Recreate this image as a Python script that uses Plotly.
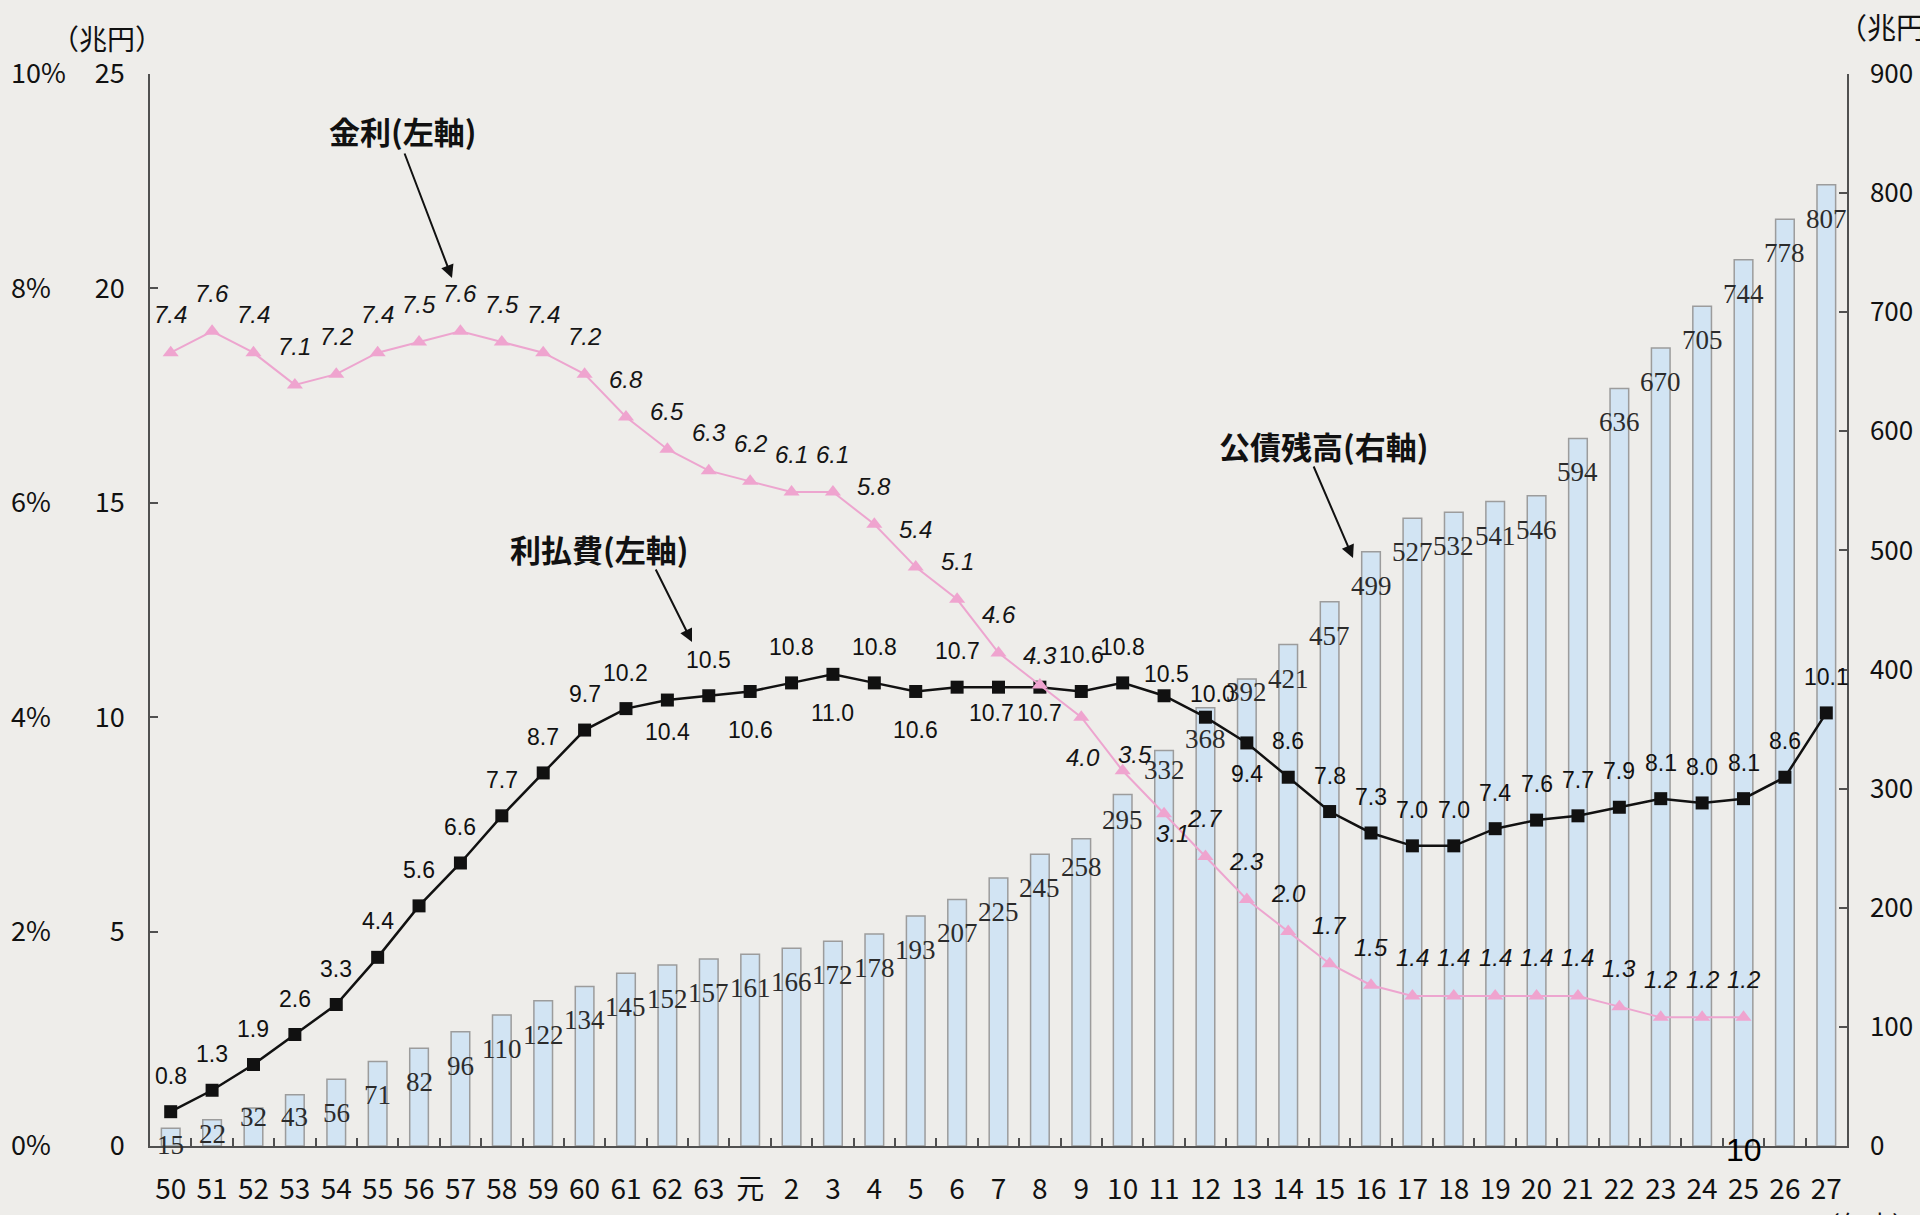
import plotly.graph_objects as go

# ---------------- data ----------------
years = ['50', '51', '52', '53', '54', '55', '56', '57', '58', '59', '60', '61', '62', '63', '元',
         '2', '3', '4', '5', '6', '7', '8', '9', '10', '11', '12', '13', '14', '15', '16', '17',
         '18', '19', '20', '21', '22', '23', '24', '25', '26', '27']

debt = [15, 22, 32, 43, 56, 71, 82, 96, 110, 122, 134, 145, 152, 157, 161,
        166, 172, 178, 193, 207, 225, 245, 258, 295, 332, 368, 392, 421, 457, 499, 527,
        532, 541, 546, 594, 636, 670, 705, 744, 778, 807]

interest_cost = [0.8, 1.3, 1.9, 2.6, 3.3, 4.4, 5.6, 6.6, 7.7, 8.7, 9.7, 10.2, 10.4, 10.5, 10.6,
                 10.8, 11.0, 10.8, 10.6, 10.7, 10.7, 10.7, 10.6, 10.8, 10.5, 10.0, 9.4, 8.6, 7.8, 7.3, 7.0,
                 7.0, 7.4, 7.6, 7.7, 7.9, 8.1, 8.0, 8.1, 8.6, 10.1]

rate = [7.4, 7.6, 7.4, 7.1, 7.2, 7.4, 7.5, 7.6, 7.5, 7.4, 7.2, 6.8, 6.5, 6.3, 6.2,
        6.1, 6.1, 5.8, 5.4, 5.1, 4.6, 4.3, 4.0, 3.5, 3.1, 2.7, 2.3, 2.0, 1.7, 1.5, 1.4,
        1.4, 1.4, 1.4, 1.4, 1.3, 1.2, 1.2, 1.2, None, None]

left_ticks = [0, 5, 10, 15, 20, 25]
pct_ticks = [0, 2, 4, 6, 8, 10]
pct_text = ['0%', '2%', '4%', '6%', '8%', '10%']
right_ticks = [0, 100, 200, 300, 400, 500, 600, 700, 800, 900]

# label placement tweaks (pixels): (dx, dy)  dy>0 = up
bar_label_shift = {'50': (0, -17), '51': (0, -14), '52': (0, -9), '53': (0, -22),
                   '9': (0, -28), '10': (0, -25), '11': (0, -19), '12': (0, -31), '13': (0, -13)}
cost_label_shift = {'62': (0, -32), '元': (0, -39), '3': (0, -39), '5': (0, -39),
                    '7': (-7, -26), '8': (0, -26), '11': (2, 22), '12': (7, 23), '13': (0, -31)}
rate_label_shift = {'8': (0, 30), '9': (2, -40), '10': (12, 16), '11': (8, -20)}

# ---------------- geometry ----------------
W, H = 1920, 1215
MT, MB = 74, 69
X0, X1 = 150, 1847


def px(x):
    return x / W


def py(y):
    return (H - MB - y) / (H - MT - MB)


BG = '#eeedea'
AX = '#505050'
JP = 'Noto Sans CJK JP'

fig = go.Figure()

fig.add_trace(go.Bar(
    x=years, y=debt, yaxis='y', width=0.45,
    marker=dict(color='#d2e4f3', line=dict(color='#9c9c9c', width=1.5)),
    hoverinfo='skip', showlegend=False))

fig.add_trace(go.Scatter(
    x=years, y=interest_cost, yaxis='y2', mode='lines+markers',
    line=dict(color='#111111', width=2.5),
    marker=dict(symbol='square', size=13, color='#111111'),
    showlegend=False))

fig.add_trace(go.Scatter(
    x=years, y=rate, yaxis='y3', mode='lines+markers',
    line=dict(color='#eda5cf', width=2),
    marker=dict(symbol='triangle-up', size=14, color='#efa4cf'),
    showlegend=False, connectgaps=False))

ann = []
for i, (c, v) in enumerate(zip(years, debt)):
    dx, dy = bar_label_shift.get(c, (0, -34))
    ann.append(dict(x=i, y=v, xref='x', yref='y', text=str(v), showarrow=False,
                    xanchor='center', yanchor='middle', xshift=dx, yshift=dy,
                    font=dict(family='Liberation Serif', size=27, color='#2b2b2b')))
for i, (c, v) in enumerate(zip(years, interest_cost)):
    dx, dy = cost_label_shift.get(c, (0, 36))
    ann.append(dict(x=i, y=v, xref='x', yref='y2', text=f'{v:.1f}', showarrow=False,
                    xanchor='center', yanchor='middle', xshift=dx, yshift=dy,
                    font=dict(family='Liberation Sans', size=23, color='#111111')))
for i, (c, v) in enumerate(zip(years, rate)):
    if v is None:
        continue
    dx, dy = rate_label_shift.get(c, (0, 38))
    ann.append(dict(x=i, y=v, xref='x', yref='y3', text=f'<i>{v:.1f}</i>', showarrow=False,
                    xanchor='center', yanchor='middle', xshift=dx, yshift=dy,
                    font=dict(family='Liberation Sans', size=24, color='#151515')))

# series call-outs
callouts = [
    ('金利(左軸)', 402, 130, 452, 278, 404, 152),
    ('利払費(左軸)', 599, 548, 692, 642, 655, 568),
    ('公債残高(右軸)', 1323, 445, 1353, 558, 1313, 465),
]
for text, tx, ty, hx, hy, sx, sy in callouts:
    ann.append(dict(x=px(tx), y=py(ty), xref='paper', yref='paper', text=f'<b>{text}</b>',
                    xanchor='center', yanchor='middle',
                    showarrow=False, font=dict(family=JP, size=31, color='#111111')))
    ann.append(dict(x=px(hx), y=py(hy), xref='paper', yref='paper', text='',
                    showarrow=True, ax=sx - hx, ay=sy - hy, arrowhead=2, arrowsize=1.3,
                    arrowwidth=2, arrowcolor='#111111', standoff=0))

# unit labels
ann.append(dict(x=px(107), y=py(38), xref='paper', yref='paper', text='（兆円）', showarrow=False,
                xanchor='center', yanchor='middle',
                font=dict(family=JP, size=28, color='#111111')))
ann.append(dict(x=px(1836), y=py(26), xref='paper', yref='paper', text='（兆円）', showarrow=False,
                xanchor='left', yanchor='middle', font=dict(family=JP, size=29, color='#111111')))
ann.append(dict(x=px(1812), y=py(1203), xref='paper', yref='paper', text='（年度）', showarrow=False,
                xanchor='left', yanchor='top', font=dict(family=JP, size=26, color='#111111')))
ann.append(dict(x=years.index('25'), y=py(1150), xref='x', yref='paper', text='10', showarrow=False,
                xanchor='center', yanchor='middle',
                font=dict(family='Liberation Sans', size=32, color='#000000')))

fig.update_layout(
    width=W, height=H,
    margin=dict(l=0, r=0, t=MT, b=MB),
    paper_bgcolor=BG, plot_bgcolor=BG,
    bargap=0.5,
    xaxis=dict(type='category', domain=[px(X0), px(X1)], range=[-0.5, 40.5],
               showline=True, linecolor=AX, linewidth=1.5, showgrid=False, zeroline=False,
               ticks='inside', tickson='boundaries', ticklen=8, tickcolor=AX, tickwidth=1.5,
               ticklabelstandoff=18,
               tickfont=dict(family=JP, size=28, color='#111111')),
    yaxis=dict(side='right', anchor='x', range=[0, 900], tickvals=right_ticks,
               showline=True, linecolor=AX, linewidth=1.5, showgrid=False, zeroline=False,
               ticks='inside', ticklen=8, tickcolor=AX, tickwidth=1.5, ticklabelstandoff=16,
               tickfont=dict(family=JP, size=26, color='#111111')),
    yaxis2=dict(side='left', anchor='x', overlaying='y', range=[0, 25], tickvals=left_ticks,
                showline=True, linecolor=AX, linewidth=1.5, showgrid=False, zeroline=False,
                ticks='inside', ticklen=8, tickcolor=AX, tickwidth=1.5, ticklabelstandoff=18,
                tickfont=dict(family=JP, size=27, color='#111111')),
    yaxis3=dict(side='right', anchor='free', position=px(10), overlaying='y', range=[0, 10],
                tickmode='array', tickvals=pct_ticks, ticktext=pct_text,
                showline=False, showgrid=False, zeroline=False, ticks='',
                tickfont=dict(family=JP, size=27, color='#111111')),
    annotations=ann,
)

fig.write_html('out.html')
